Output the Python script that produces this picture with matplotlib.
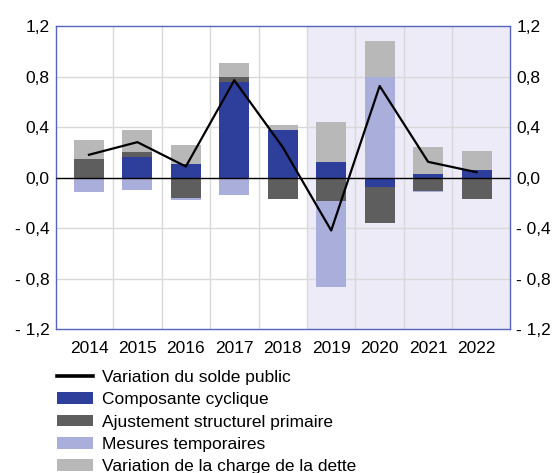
import numpy as np
import matplotlib
matplotlib.use("Agg")
import matplotlib.pyplot as plt
from matplotlib.lines import Line2D
from matplotlib.patches import Patch

plt.rcParams['font.family'] = ['Liberation Sans', 'DejaVu Sans']

years = ['2014', '2015', '2016', '2017', '2018', '2019', '2020', '2021', '2022']
cyclique = [-0.013, 0.16, 0.11, 0.76, 0.377, 0.12, -0.074, 0.024, 0.06]
structurel = [0.15, 0.045, -0.165, 0.04, -0.17, -0.19, -0.285, -0.105, -0.17]
temporaires = [-0.105, -0.10, -0.015, -0.14, 0.0, -0.675, 0.80, -0.013, 0.0]
dette = [0.15, 0.17, 0.15, 0.11, 0.035, 0.32, 0.285, 0.22, 0.153]
solde = [0.18, 0.28, 0.087, 0.77, 0.24, -0.42, 0.725, 0.124, 0.042]

labels = ['Variation du solde public', 'Composante cyclique',
          'Ajustement structurel primaire', 'Mesures temporaires',
          'Variation de la charge de la dette']
colors = ['#2E3F9B', '#5E5E5E', '#AAAEDB', '#B8B8B8']

fig = plt.figure(figsize=(5.57, 4.73), dpi=100)
ax = fig.add_axes([56/557, 1-329/473, 454/557, 303/473])

x = np.arange(len(years))
ax.set_xlim(-0.68, 8.69)
ax.set_ylim(-1.2, 1.2)

# zone ombrée (prévisions)
ax.axvspan(4.5, 8.69, color='#ECEBF7', zorder=0, lw=0)

for g in np.arange(0.5, 8, 1.0):
    ax.axvline(g, color='#D9D9D9', lw=1, zorder=1)
for yv in [-0.8, -0.4, 0.4, 0.8]:
    ax.axhline(yv, color='#D9D9D9', lw=1, zorder=1)

pos = np.zeros(len(years))
neg = np.zeros(len(years))
for serie, c in zip([cyclique, structurel, temporaires, dette], colors):
    v = np.array(serie)
    base = np.where(v >= 0, pos, neg)
    ax.bar(x, v, 0.62, bottom=base, color=c, zorder=2, lw=0)
    pos = pos + np.where(v >= 0, v, 0)
    neg = neg + np.where(v < 0, v, 0)

ax.axhline(0, color='black', lw=1, zorder=3)
ax.plot(x, solde, color='black', lw=1.6, zorder=4)

yt = [-1.2, -0.8, -0.4, 0.0, 0.4, 0.8, 1.2]
ytl = ['- 1,2', '- 0,8', '- 0,4', '0,0', '0,4', '0,8', '1,2']
ax.set_yticks(yt)
ax.set_yticklabels(ytl)
ax.set_xticks(x)
ax.set_xticklabels(years)
ax.tick_params(axis='both', length=0, labelsize=12.5, colors='#000000')
ax.tick_params(axis='y', labelright=True, right=False, pad=4.5)
ax.tick_params(axis='x', pad=8.5)
for s in ax.spines.values():
    s.set_color('#5565BE')
    s.set_linewidth(1)

handles = [Line2D([], [], color='black', lw=2.6)] + \
          [Patch(facecolor=c, edgecolor='none') for c in colors]
fig.legend(handles, labels, loc='upper left', bbox_to_anchor=(57/557, 1-370/473),
           frameon=False, fontsize=12.5, handlelength=2.07, handleheight=0.65,
           handletextpad=0.5, labelspacing=0.42, borderaxespad=0, borderpad=0)

fig.savefig('out.png', dpi=100)
